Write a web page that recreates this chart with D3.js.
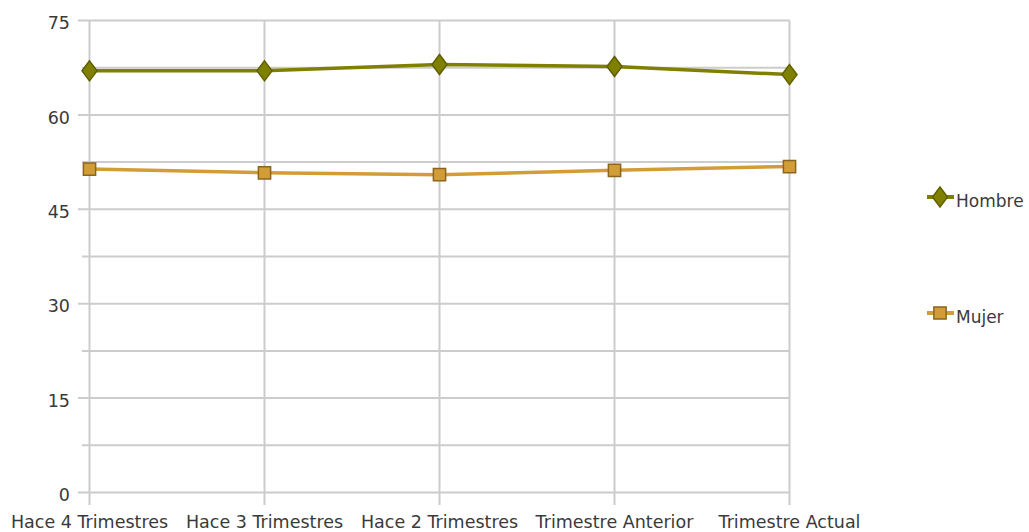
<!DOCTYPE html>
<html>
<head>
<meta charset="utf-8">
<script src="https://cdn.jsdelivr.net/npm/d3@7"></script>
<style>
  body { margin: 0; background: #fff; }
  text { font-family: "DejaVu Sans", sans-serif; fill: #3a3a3a; }
</style>
</head>
<body>
<svg id="chart" width="1029" height="532"></svg>
<script>
const categories = [
  "Hace 4 Trimestres",
  "Hace 3 Trimestres",
  "Hace 2 Trimestres",
  "Trimestre Anterior",
  "Trimestre Actual",
];
const hombre = [67.0, 67.0, 68.0, 67.7, 66.4];
const mujer = [51.4, 50.8, 50.5, 51.2, 51.8];
const yTicks = [0, 15, 30, 45, 60, 75];
const yGrid = [0, 7.5, 15, 22.5, 30, 37.5, 45, 52.5, 60, 67.5, 75];

// rombo algo más ancho que el de d3
const diamond = {
  draw(ctx, size) {
    const h = Math.sqrt(size / 1.5);
    const w = h * 0.75;
    ctx.moveTo(0, -h);
    ctx.lineTo(w, 0);
    ctx.lineTo(0, h);
    ctx.lineTo(-w, 0);
    ctx.closePath();
  },
};

const series = [
  { name: "Hombre", values: hombre, color: "#808000", stroke: "#5f5f00", shape: diamond, size: 150, legendY: 197 },
  { name: "Mujer", values: mujer, color: "#d29d36", stroke: "#8c6422", shape: d3.symbolSquare, size: 150, legendY: 313 },
];

const svg = d3.select("#chart");

const x = d3.scalePoint().domain(categories).range([89.5, 789.5]);
const y = d3.scaleLinear().domain([0, 75]).range([492.5, 20.5]);

// grid horizontal
svg.append("g")
  .selectAll("line")
  .data(yGrid)
  .join("line")
  .attr("x1", (d) => (yTicks.includes(d) ? 78 : 82))
  .attr("x2", x.range()[1])
  .attr("y1", (d) => y(d))
  .attr("y2", (d) => y(d))
  .attr("stroke", "#cccccc")
  .attr("stroke-width", 2);

// grid vertical
svg.append("g")
  .selectAll("line")
  .data(categories)
  .join("line")
  .attr("x1", (d) => x(d))
  .attr("x2", (d) => x(d))
  .attr("y1", y(75))
  .attr("y2", 505)
  .attr("stroke", "#cccccc")
  .attr("stroke-width", 2);

// Eje Y
svg.append("g")
  .selectAll("text")
  .data(yTicks)
  .join("text")
  .attr("x", 70)
  .attr("y", (d) => y(d))
  .attr("dy", "0.5em")
  .attr("text-anchor", "end")
  .attr("font-size", "17.5px")
  .text((d) => d);

// Eje X
svg.append("g")
  .selectAll("text")
  .data(categories)
  .join("text")
  .attr("x", (d) => x(d))
  .attr("y", 528)
  .attr("text-anchor", "middle")
  .attr("font-size", "17.5px")
  .text((d) => d);

const line = d3.line()
  .x((d, i) => x(categories[i]))
  .y((d) => y(d));

series.forEach((s) => {
  svg.append("path")
    .datum(s.values)
    .attr("d", line)
    .attr("fill", "none")
    .attr("stroke", s.color)
    .attr("stroke-width", 3.5);

  svg.append("g")
    .selectAll("path")
    .data(s.values)
    .join("path")
    .attr("transform", (d, i) => `translate(${x(categories[i])},${y(d)})`)
    .attr("d", d3.symbol().type(s.shape).size(s.size))
    .attr("fill", s.color)
    .attr("stroke", s.stroke)
    .attr("stroke-width", 1.5);

  // Leyenda
  const lg = svg.append("g").attr("transform", `translate(940,${s.legendY})`);
  lg.append("line")
    .attr("x1", -13)
    .attr("x2", 14)
    .attr("stroke", s.color)
    .attr("stroke-width", 4);
  lg.append("path")
    .attr("d", d3.symbol().type(s.shape).size(s.size))
    .attr("fill", s.color)
    .attr("stroke", s.stroke)
    .attr("stroke-width", 1.5);
  lg.append("text")
    .attr("x", 16)
    .attr("y", 0)
    .attr("dy", "0.58em")
    .attr("font-size", "17px")
    .text(s.name);
});
</script>
</body>
</html>
